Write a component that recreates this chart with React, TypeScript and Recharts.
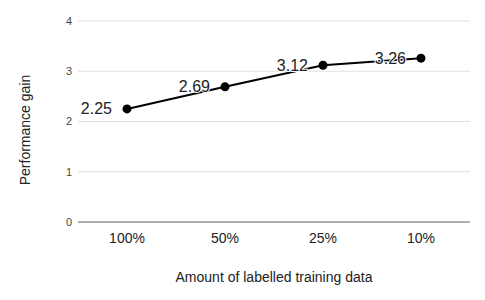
import { CartesianGrid, LabelList, Line, LineChart, XAxis, YAxis } from "recharts"

const categories = ["100%", "50%", "25%", "10%"]
const gains = [2.25, 2.69, 3.12, 3.26]
const yTicks = [0, 1, 2, 3, 4]

const data = categories.map((amount, i) => ({ amount, gain: gains[i] }))

const font = "'Liberation Sans', Arial, sans-serif"

const renderValue = (props: any) => {
  const { x, y, value } = props
  return (
    <text
      x={x - 15}
      y={y}
      textAnchor="end"
      dominantBaseline="central"
      fontSize={16}
      fontFamily={font}
      fill="#222"
      stroke="#fff"
      strokeWidth={2}
      paintOrder="stroke"
    >
      {value}
    </text>
  )
}

export default function App() {
  return (
    <div style={{ position: "absolute", left: 0, top: 0, background: "#fff" }}>
      <LineChart
        width={485}
        height={300}
        data={data}
        margin={{ top: 21, right: 15, bottom: 0, left: 0 }}
      >
        <CartesianGrid vertical={false} stroke="#e0e0e0" strokeWidth={1} />
        <XAxis
          dataKey="amount"
          height={78}
          padding={{ left: 49, right: 49 }}
          tickLine={false}
          tickSize={0}
          tickMargin={11}
          axisLine={{ stroke: "#999", strokeWidth: 1.5 }}
          tick={{ fontSize: 14, fill: "#222", fontFamily: font }}
          label={{
            value: "Amount of labelled training data",
            position: "insideBottom",
            offset: 18,
            fontSize: 14,
            fill: "#222",
            fontFamily: font,
          }}
        />
        <YAxis
          width={78}
          domain={[0, 4]}
          ticks={yTicks}
          tickLine={false}
          axisLine={false}
          tickSize={0}
          tickMargin={6}
          tick={{ fontSize: 11, fill: "#444", fontFamily: font }}
          label={{
            value: "Performance gain",
            content: () => (
              <text
                x={30}
                y={130}
                transform="rotate(-90 30 130)"
                textAnchor="middle"
                fontSize={14}
                fill="#222"
                fontFamily={font}
              >
                Performance gain
              </text>
            ),
          }}
        />
        <Line
          dataKey="gain"
          stroke="#000"
          strokeWidth={2}
          dot={{ r: 4.5, fill: "#000", stroke: "#000", strokeWidth: 0 }}
          isAnimationActive={false}
        >
          <LabelList dataKey="gain" content={renderValue} />
        </Line>
      </LineChart>
    </div>
  )
}
